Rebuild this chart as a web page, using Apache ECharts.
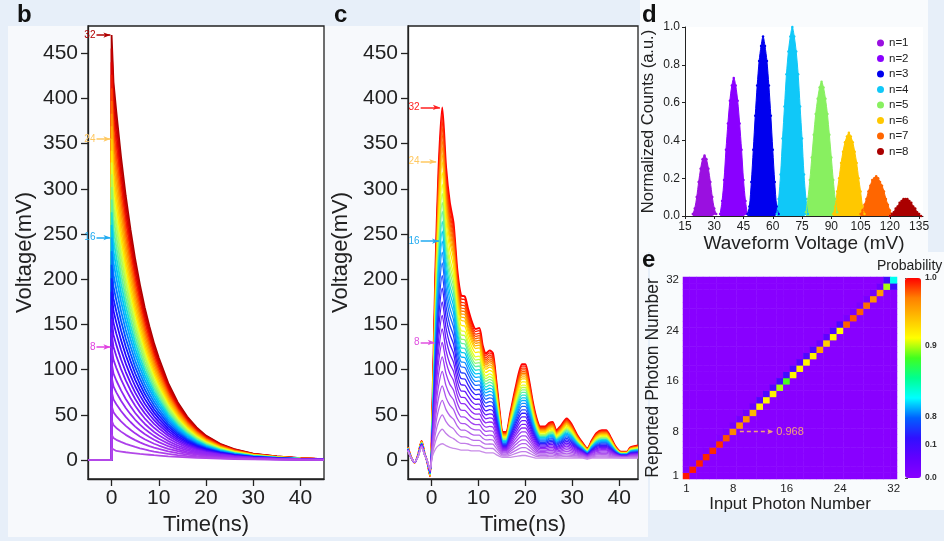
<!DOCTYPE html>
<html><head><meta charset="utf-8">
<script src="https://cdn.jsdelivr.net/npm/echarts@6/dist/echarts.min.js"></script>
<style>html,body{margin:0;padding:0;background:#e7eff9}#chart{width:944px;height:541px}</style>
</head><body><div id="chart"></div>
<script>
// ---------- Panel b : simulated pulses ----------
const bTimes  = [-5, 0, 0, 0.4, 1, 2, 3, 4, 5, 6, 7, 8, 9, 10, 12, 14, 16, 18, 20, 23, 26, 30, 35, 40, 45];
const bTop    = [0, 0, 470, 418, 385, 335, 292, 255, 222, 194, 169, 148, 129, 113, 85, 64, 48, 36, 27, 18, 12, 7, 4, 2, 1];
const bBottom = [0, 0, 13, 11, 10, 9.3, 8.6, 8, 7.4, 6.8, 6.3, 5.8, 5.3, 4.9, 4.1, 3.5, 2.9, 2.4, 2, 1.5, 1.1, 0.8, 0.5, 0.3, 0.2];
const bPeaks  = [13, 28, 44, 60, 76, 92, 108, 125, 141, 156, 171, 186, 201, 216, 231, 246, 260, 274, 288, 302, 316, 329, 342, 355, 369, 383, 397, 411, 426, 440, 455, 470];
const bColors = ['#b348e8','#ad40ea','#a838ec','#a232ee','#9c2cf0','#962af2','#9026f4','#8a22f6',
                 '#7418f8','#5a10fa','#3c0cfc','#2008fe','#1020ff','#0050ff','#0080ff','#00a8ff',
                 '#00c8f0','#20e0d0','#60f0a0','#90f870','#b8fc50','#e0ff30','#ffe800','#ffcc00',
                 '#ffb000','#ff9000','#ff6a00','#ff4000','#f01800','#dd0000','#c40000','#aa0000'];
const bArrowN = [32, 24, 16, 8];
const bArrowColors = ['#b00000', '#ffc860', '#20aaf0', '#e040e0'];

// ---------- Panel c : measured waveforms ----------
const cTimes  = [-5,-4.4,-3.6,-2.9,-2.1,-1.5,-0.9,-0.3,0.2,0.85,1.5,2.3,3.1,3.9,4.7,5.5,6.3,7.1,7.8,8.6,9.4,10.2,10.9,11.6,12.4,13.1,13.8,14.5,15.2,15.9,16.8,18,19.3,20,20.8,21.6,22.4,23.2,24.2,25.1,25.8,26.6,27.6,28.8,29.8,31,32.2,33.2,34.2,35.2,36.3,37.2,38.2,39.2,40.4,41.6,42.4,44];
const cTop    = [14,4,-3,5,21,8,-2,-18,60,210,320,390,324,285,262,210,182,181,167,153,145,146,127,118,121,118,88,55,31,31,52,82,106,106,88,64,46,37,37,41,42,33,38,46,40,28,19,13,22,30,33,33,25,15,9,9,14,16];
const cBottom = [10,3,-2,3,14,6,-1,-10,4,12,16,18,16,14,13,12,11,11,11,10,10,10,9,8,8,8,6,4,3,3,3,4,5,5,4,3,2,2,2,2,2,2,2,2,2,2,2,1,2,2,2,2,2,2,2,2,2,2];
const cPeaks  = [18, 34, 50, 66, 82, 98, 114, 130, 145, 160, 175, 190, 204, 218, 230, 242, 253, 264, 275, 285, 295, 305, 318, 330, 338, 346, 353, 360, 367, 374, 382, 390];
const cColors = ['#c88ae8','#c27ee8','#bb70ea','#b462ec','#ac54ee','#a446f0','#9a38f2','#902af6',
                 '#7c20f8','#6418fa','#4a14fc','#3020ff','#2040ff','#1868ff','#1090ff','#08b0ff',
                 '#00c8f0','#20e0d0','#60f0a0','#90f870','#c0ff40','#e8ff20','#ffee00','#ffd000',
                 '#ffb400','#ff9800','#ff7c00','#ff6000','#ff4800','#ff3000','#ff1800','#ff0000'];
const cArrowN = [32, 24, 16, 8];
const cArrowColors = ['#ff2020', '#ffc860', '#20aaf0', '#e050e0'];

const voltTicks = [0, 50, 100, 150, 200, 250, 300, 350, 400, 450];
const timeTicks = [0, 10, 20, 30, 40];

// ---------- Panel d : histograms ----------
const dLabels = ['n=1','n=2','n=3','n=4','n=5','n=6','n=7','n=8'];
const dColors = ['#9a10e0','#8a00ff','#0000ee','#10c8f8','#88f060','#ffc800','#ff6600','#aa0000'];
const dStarts = [19, 33, 47, 62, 77, 91, 105, 120];
const dN1 = [0.01,0.04,0.10,0.18,0.25,0.30,0.32,0.30,0.25,0.18,0.10,0.04,0.01];
const dN2 = [0.01,0.08,0.19,0.35,0.49,0.61,0.69,0.73,0.69,0.61,0.49,0.35,0.19,0.08,0.01];
const dN3 = [0.01,0.05,0.18,0.35,0.53,0.69,0.82,0.90,0.95,0.90,0.82,0.69,0.53,0.35,0.18,0.05,0.01];
const dN4 = [0.01,0.09,0.22,0.41,0.58,0.75,0.87,0.95,1.00,0.95,0.87,0.75,0.58,0.41,0.22,0.09,0.01];
const dN5 = [0.02,0.09,0.19,0.31,0.43,0.54,0.62,0.68,0.71,0.68,0.62,0.54,0.43,0.31,0.19,0.09,0.02];
const dN6 = [0.01,0.05,0.13,0.20,0.28,0.34,0.39,0.42,0.44,0.42,0.39,0.34,0.28,0.20,0.13,0.05,0.01];
const dN7 = [0.01,0.03,0.06,0.09,0.13,0.16,0.19,0.20,0.21,0.20,0.18,0.16,0.13,0.09,0.06,0.03,0.01];
const dN8 = [0.00,0.01,0.02,0.04,0.05,0.07,0.08,0.09,0.09,0.09,0.08,0.07,0.05,0.04,0.02,0.01,0.00];
const dCounts = [dN1, dN2, dN3, dN4, dN5, dN6, dN7, dN8];
const dTicksX = [15, 30, 45, 60, 75, 90, 105, 120, 135];

// ---------- Panel e : confusion matrix ----------
const eCats = Array.from({length: 32}, (_, k) => String(k + 1));
const eShownLabels = ['1', '8', '16', '24', '32'];
const eDiagonal = [0.995,0.994,0.993,0.992,0.991,0.99,0.982,0.968,0.964,0.962,0.945,0.918,0.915,0.918,0.898,0.884,
                   0.915,0.918,0.915,0.918,0.955,0.935,0.915,0.912,0.978,0.98,0.978,0.975,0.962,0.958,0.898,0.83];
const eAbove = [0.005,0.006,0.007,0.008,0.009,0.01,0.018,0.03,0.035,0.038,0.05,0.08,0.085,0.08,0.1,0.11,
                0.085,0.08,0.085,0.08,0.045,0.065,0.085,0.088,0.022,0.02,0.022,0.025,0.038,0.042,0.1];
const eBelow = [0,0,0,0,0,0,0,0,0,0,0,0,0,0,0,0,0,0,0,0,0,0,0,0,0,0,0,0,0,0,0.17];
const cbTicks = [0.0, 0.1, 0.8, 0.9, 1.0];
const cbPositions = [0, 0.165, 0.305, 0.66, 1.0];
const cbColors = ['#8800ff','#6200ff','#3010ff','#0060ff','#00ffff','#00ff90','#40ff20','#ffff00','#ffc000','#ff8000','#ff0000'];
const eAnnotation = '0.968';

// ---------- build ----------
const FONT = "'Liberation Sans', Arial, Helvetica, sans-serif";
const TXT = '#222';

function blend(times, top, bottom, peaks, i) {
  const w = (peaks[i] - peaks[0]) / (peaks[peaks.length - 1] - peaks[0]);
  return times.map((t, k) => [t, +(bottom[k] + w * (top[k] - bottom[k])).toFixed(2)]);
}
function probToPos(p) {
  for (let k = 0; k < cbTicks.length - 1; k++) {
    if (p <= cbTicks[k + 1]) {
      const f = (p - cbTicks[k]) / (cbTicks[k + 1] - cbTicks[k]);
      return cbPositions[k] + f * (cbPositions[k + 1] - cbPositions[k]);
    }
  }
  return 1;
}

const series = [];
for (let i = 31; i >= 0; i--) {
  series.push({
    type: 'line', xAxisIndex: 0, yAxisIndex: 0, data: blend(bTimes, bTop, bBottom, bPeaks, i),
    showSymbol: false, symbol: 'none', lineStyle: { color: bColors[i], width: 1.8 }, z: 2, silent: true, clip: false
  });
}
series[series.length - 1].markLine = {
  silent: true, symbol: ['none', 'arrow'], symbolSize: [4, 7], animation: false,
  data: bArrowN.map((n, k) => [
    { coord: [-3.2, bPeaks[n - 1]], lineStyle: { color: bArrowColors[k], width: 1.5, type: 'solid' },
      label: { show: true, position: 'start', formatter: String(n), color: bArrowColors[k], fontSize: 10, distance: 1, fontFamily: FONT } },
    { coord: [-0.25, bPeaks[n - 1]] }
  ])
};
for (let i = 31; i >= 0; i--) {
  series.push({
    type: 'line', xAxisIndex: 1, yAxisIndex: 1, data: blend(cTimes, cTop, cBottom, cPeaks, i),
    showSymbol: false, symbol: 'none', smooth: 0.25, lineStyle: { color: cColors[i], width: i === 31 ? 2 : 1.3 }, z: 2, silent: true, clip: false
  });
}
const cArrowEnds = [1.8, 1.0, 1.6, 0.7];
series[series.length - 1].markLine = {
  silent: true, symbol: ['none', 'arrow'], symbolSize: [4, 7], animation: false,
  data: cArrowN.map((n, k) => [
    { coord: [-2.3, cPeaks[n - 1]], lineStyle: { color: cArrowColors[k], width: 1.5, type: 'solid' },
      label: { show: true, position: 'start', formatter: String(n), color: cArrowColors[k], fontSize: 10, distance: 1, fontFamily: FONT } },
    { coord: [cArrowEnds[k], cPeaks[n - 1]] }
  ])
};
dCounts.forEach((arr, i) => {
  series.push({
    type: 'line', name: dLabels[i], xAxisIndex: 2, yAxisIndex: 2,
    data: arr.map((y, k) => [dStarts[i] + k, y]), smooth: 0.3,
    symbol: 'circle', symbolSize: 2.5, showSymbol: true,
    lineStyle: { color: dColors[i], width: 1 }, itemStyle: { color: dColors[i] },
    areaStyle: { color: dColors[i], opacity: 1 }, z: 2, silent: true
  });
});
const eData = [];
for (let i = 0; i < 32; i++) for (let j = 0; j < 32; j++) {
  let p = 0;
  if (i === j) p = eDiagonal[i];
  else if (j === i + 1) p = eAbove[i];
  else if (j === i - 1) p = eBelow[i - 1];
  eData.push([i, j, probToPos(p), p]);
}
const heatIndex = series.length;
series.push({
  type: 'heatmap', xAxisIndex: 3, yAxisIndex: 3, data: eData, silent: true,
  itemStyle: { borderWidth: 0 }, emphasis: { disabled: true }, progressive: 0,
  markLine: {
    silent: true, symbol: ['none', 'arrow'], symbolSize: [4, 6], animation: false,
    data: [[
      { coord: [8, 7], lineStyle: { color: '#f3a07a', width: 1.3, type: [4, 3] },
        label: { show: true, position: 'end', formatter: eAnnotation, color: '#f3a07a', fontSize: 11, distance: 3, fontFamily: FONT } },
      { coord: [13, 7] }
    ]]
  }
});

function lineAxisStyle(w) {
  return { show: true, onZero: false, lineStyle: { color: TXT, width: w } };
}
const bigLabel = { fontSize: 21, color: TXT, fontFamily: FONT };
const bigName = { fontSize: 22, color: TXT, fontFamily: FONT };

const option = {
  animation: false,
  backgroundColor: '#e7eff9',
  textStyle: { fontFamily: FONT },
  graphic: [
    { type: 'rect', z: -5, silent: true, shape: { x: 8, y: 26, width: 640, height: 511 }, style: { fill: '#f7f9fc' } },
    { type: 'rect', z: -5, silent: true, shape: { x: 640, y: 0, width: 288, height: 252 }, style: { fill: '#f9fbfd' } },
    { type: 'rect', z: -5, silent: true, shape: { x: 650, y: 252, width: 294, height: 258 }, style: { fill: '#f9fbfd' } }
  ],
  title: [
    { text: 'b', left: 17, top: 3, padding: 0, textStyle: { fontSize: 24, fontWeight: 'bold', color: '#111', fontFamily: FONT } },
    { text: 'c', left: 334, top: 3, padding: 0, textStyle: { fontSize: 24, fontWeight: 'bold', color: '#111', fontFamily: FONT } },
    { text: 'd', left: 642, top: 3, padding: 0, textStyle: { fontSize: 24, fontWeight: 'bold', color: '#111', fontFamily: FONT } },
    { text: 'e', left: 642, top: 248, padding: 0, textStyle: { fontSize: 24, fontWeight: 'bold', color: '#111', fontFamily: FONT } },
    { text: 'Probability', left: 877, top: 259, padding: 0, textStyle: { fontSize: 14, fontWeight: 'normal', color: TXT, fontFamily: FONT } }
  ],
  legend: {
    data: dLabels, orient: 'vertical', left: 877, top: 37, padding: 0,
    icon: 'circle', itemWidth: 7, itemHeight: 7, itemGap: 3.5, selectedMode: false,
    textStyle: { fontSize: 11.5, color: TXT, fontFamily: FONT, lineHeight: 12 }
  },
  grid: [
    { left: 88, top: 26, width: 236, height: 453, show: true, backgroundColor: '#ffffff', borderColor: TXT, borderWidth: 1.3 },
    { left: 408, top: 26, width: 230, height: 453, show: true, backgroundColor: '#ffffff', borderColor: TXT, borderWidth: 1.3 },
    { left: 685, top: 27, width: 238, height: 189, show: true, backgroundColor: '#ffffff', borderWidth: 0 },
    { left: 683, top: 277, width: 214, height: 202 },
    { left: 905, top: 278, width: 16, height: 200 }
  ],
  xAxis: [
    { gridIndex: 0, type: 'value', min: -5, max: 45, axisLine: lineAxisStyle(1.3),
      axisTick: { customValues: timeTicks, length: 7, lineStyle: { color: TXT, width: 1.3 } },
      axisLabel: Object.assign({ customValues: timeTicks, margin: 9 }, bigLabel), splitLine: { show: false },
      name: 'Time(ns)', nameLocation: 'middle', nameGap: 35, nameTextStyle: bigName },
    { gridIndex: 1, type: 'value', min: -5, max: 44, axisLine: lineAxisStyle(1.3),
      axisTick: { customValues: timeTicks, length: 7, lineStyle: { color: TXT, width: 1.3 } },
      axisLabel: Object.assign({ customValues: timeTicks, margin: 9 }, bigLabel), splitLine: { show: false },
      name: 'Time(ns)', nameLocation: 'middle', nameGap: 35, nameTextStyle: bigName },
    { gridIndex: 2, type: 'value', min: 15, max: 137, axisLine: lineAxisStyle(1),
      axisTick: { customValues: dTicksX, length: 3, lineStyle: { color: TXT } },
      axisLabel: { customValues: dTicksX, margin: 5, fontSize: 12, color: TXT, fontFamily: FONT }, splitLine: { show: false },
      name: 'Waveform Voltage (mV)', nameLocation: 'middle', nameGap: 17, nameTextStyle: { fontSize: 19, color: TXT, fontFamily: FONT } },
    { gridIndex: 3, type: 'category', data: eCats, axisLine: { show: false }, axisTick: { show: false },
      axisLabel: { interval: (idx, val) => eShownLabels.includes(val), margin: 4, fontSize: 11.5, color: TXT, fontFamily: FONT },
      splitLine: { show: false }, splitArea: { show: false },
      name: 'Input Photon Number', nameLocation: 'middle', nameGap: 13, nameTextStyle: { fontSize: 17, color: TXT, fontFamily: FONT } },
    { gridIndex: 4, type: 'value', show: false, min: 0, max: 1 }
  ],
  yAxis: [
    { gridIndex: 0, type: 'value', min: -21, max: 480, axisLine: lineAxisStyle(1.3),
      axisTick: { customValues: voltTicks, length: 7, lineStyle: { color: TXT, width: 1.3 } },
      axisLabel: Object.assign({ customValues: voltTicks, margin: 10 }, bigLabel), splitLine: { show: false },
      name: 'Voltage(mV)', nameLocation: 'middle', nameGap: 52, nameRotate: 90, nameTextStyle: bigName },
    { gridIndex: 1, type: 'value', min: -21, max: 480, axisLine: lineAxisStyle(1.3),
      axisTick: { customValues: voltTicks, length: 7, lineStyle: { color: TXT, width: 1.3 } },
      axisLabel: Object.assign({ customValues: voltTicks, margin: 10 }, bigLabel), splitLine: { show: false },
      name: 'Voltage(mV)', nameLocation: 'middle', nameGap: 56, nameRotate: 90, nameTextStyle: bigName },
    { gridIndex: 2, type: 'value', min: 0, max: 1, interval: 0.2, axisLine: lineAxisStyle(1),
      axisTick: { show: true, length: 3, lineStyle: { color: TXT } },
      axisLabel: { margin: 5, fontSize: 12, color: TXT, fontFamily: FONT, formatter: v => v.toFixed(1) }, splitLine: { show: false },
      name: 'Normalized Counts (a.u.)', nameLocation: 'middle', nameGap: 28, nameRotate: 90, nameTextStyle: { fontSize: 16.5, color: TXT, fontFamily: FONT } },
    { gridIndex: 3, type: 'category', data: eCats, axisLine: { show: false }, axisTick: { show: false },
      axisLabel: { interval: (idx, val) => eShownLabels.includes(val), margin: 4, fontSize: 11.5, color: TXT, fontFamily: FONT },
      splitLine: { show: false }, splitArea: { show: false },
      name: 'Reported Photon Number', nameLocation: 'middle', nameGap: 16, nameRotate: 90, nameTextStyle: { fontSize: 17.5, color: TXT, fontFamily: FONT } },
    { gridIndex: 4, type: 'value', min: 0, max: 1, position: 'right', axisLine: { show: false },
      axisTick: { show: true, customValues: cbPositions, length: 3, lineStyle: { color: '#444' } },
      axisLabel: { customValues: cbPositions, margin: 4, fontSize: 8.5, fontWeight: 'bold', color: '#333', fontFamily: FONT,
        formatter: v => { let best = 0; cbPositions.forEach((p, k) => { if (Math.abs(p - v) < Math.abs(cbPositions[best] - v)) best = k; }); return cbTicks[best].toFixed(1); } },
      splitLine: { show: false } }
  ],
  visualMap: {
    type: 'continuous', seriesIndex: heatIndex, dimension: 2, min: 0, max: 1,
    inRange: { color: cbColors }, calculable: false, orient: 'vertical',
    left: 905, top: 278, itemWidth: 16, itemHeight: 200, padding: 0, hoverLink: false, text: null
  },
  series: series
};
const chart = echarts.init(document.getElementById('chart'), null, { renderer: 'canvas' });
chart.setOption(option);
</script></body></html>
